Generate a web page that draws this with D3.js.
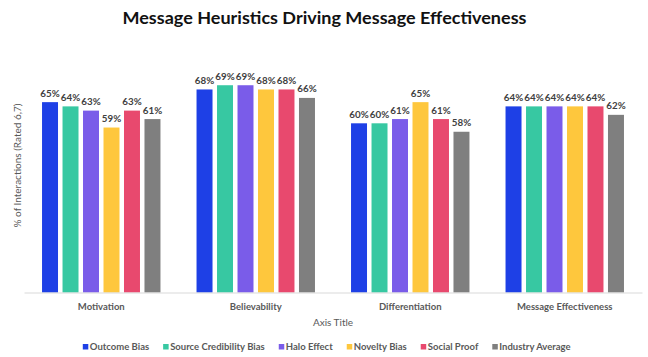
<!DOCTYPE html>
<html><head><meta charset="utf-8">
<script src="https://cdn.jsdelivr.net/npm/d3@7"></script>
<style>
html,body{margin:0;padding:0;background:#fff;}
svg{display:block;}
</style></head>
<body>
<svg id="chart" width="648" height="357"></svg>
<script>
const categories = ["Motivation", "Believability", "Differentiation", "Message Effectiveness"];
const seriesNames = ["Outcome Bias", "Source Credibility Bias", "Halo Effect", "Novelty Bias", "Social Proof", "Industry Average"];
const seriesColors = ["#1E40E6", "#37C8A2", "#7A5CE9", "#FEC73D", "#E8496E", "#7F7F7F"];
const outcomeBias = [0.65, 0.68, 0.60, 0.64];
const sourceCredibilityBias = [0.64, 0.69, 0.60, 0.64];
const haloEffect = [0.63, 0.69, 0.61, 0.64];
const noveltyBias = [0.59, 0.68, 0.65, 0.64];
const socialProof = [0.63, 0.68, 0.61, 0.64];
const industryAverage = [0.61, 0.66, 0.58, 0.62];
const yDomain = [0.2, 0.7];

const seriesValues = [outcomeBias, sourceCredibilityBias, haloEffect, noveltyBias, socialProof, industryAverage];

const svg = d3.select("#chart");
const labelFont = "Lato, 'Open Sans', sans-serif";

const x0 = d3.scaleBand().domain(categories).range([24, 642]).padding(0);
const x1 = d3.scaleBand().domain(seriesNames).range([0, x0.bandwidth()]).paddingInner(0.22).paddingOuter(0.88);
const y = d3.scaleLinear().domain(yDomain).range([292.5, 81]);
const color = d3.scaleOrdinal().domain(seriesNames).range(seriesColors);

// Title
svg.append("text")
  .attr("x", 324.5).attr("y", 24)
  .attr("text-anchor", "middle")
  .attr("font-family", "Lato, Inter, sans-serif")
  .attr("font-weight", 700)
  .attr("font-size", 17)
  .attr("fill", "#111")
  .attr("textLength", 404)
  .attr("lengthAdjust", "spacingAndGlyphs")
  .text("Message Heuristics Driving Message Effectiveness");

// data rows
const rows = [];
categories.forEach((c, ci) => {
  seriesNames.forEach((s, si) => rows.push({cat: c, series: s, value: seriesValues[si][ci]}));
});

const g = svg.append("g");
g.selectAll("rect.bar").data(rows).join("rect")
  .attr("class", "bar")
  .attr("x", d => x0(d.cat) + x1(d.series))
  .attr("width", x1.bandwidth())
  .attr("y", d => y(d.value))
  .attr("height", d => y(yDomain[0]) - y(d.value))
  .attr("fill", d => color(d.series));

g.selectAll("text.lbl").data(rows).join("text")
  .attr("class", "lbl")
  .attr("x", d => x0(d.cat) + x1(d.series) + x1.bandwidth() / 2)
  .attr("y", d => y(d.value) - 5.5)
  .attr("text-anchor", "middle")
  .attr("font-family", labelFont)
  .attr("font-weight", 700)
  .attr("font-size", 9.8)
  .attr("fill", "#404040")
  .text(d => d3.format(".0%")(d.value));

// x axis
const xAxis = d3.axisBottom(x0).tickSize(0).tickPadding(0);
const ax = svg.append("g").attr("transform", `translate(0,${y(yDomain[0])})`).call(xAxis);
ax.select(".domain").attr("stroke", "#D9D9D9").attr("stroke-width", 1);
ax.selectAll(".tick text")
  .attr("y", 17)
  .attr("dy", 0)
  .attr("font-family", labelFont)
  .attr("font-weight", 700)
  .attr("font-size", 9.5)
  .attr("fill", "#595959");

// axis titles
svg.append("text")
  .attr("x", 333).attr("y", 325.5)
  .attr("text-anchor", "middle")
  .attr("font-family", labelFont)
  .attr("font-size", 10)
  .attr("fill", "#595959")
  .text("Axis Title");

svg.append("text")
  .attr("transform", "translate(21,165.5) rotate(-90)")
  .attr("text-anchor", "middle")
  .attr("font-family", labelFont)
  .attr("font-size", 10)
  .attr("fill", "#595959")
  .text("% of Interactions (Rated 6,7)");

// legend
const leg = svg.append("g");
const items = leg.selectAll("g").data(seriesNames).join("g");
items.append("rect").attr("width", 5.5).attr("height", 5.5).attr("y", 344).attr("fill", d => color(d));
items.append("text").attr("x", 7).attr("y", 350)
  .attr("font-family", labelFont).attr("font-weight", 700).attr("font-size", 9.5)
  .attr("fill", "#595959").text(d => d);
let cx = 0;
const offs = [];
const gap = 14;
items.each(function() {
  const w = d3.select(this).select("text").node().getComputedTextLength();
  offs.push(cx);
  cx += 7 + w + gap;
});
const total = cx - gap;
const start = 326.7 - total / 2;
items.attr("transform", (d, i) => `translate(${start + offs[i]},0)`);
</script>
</body></html>
